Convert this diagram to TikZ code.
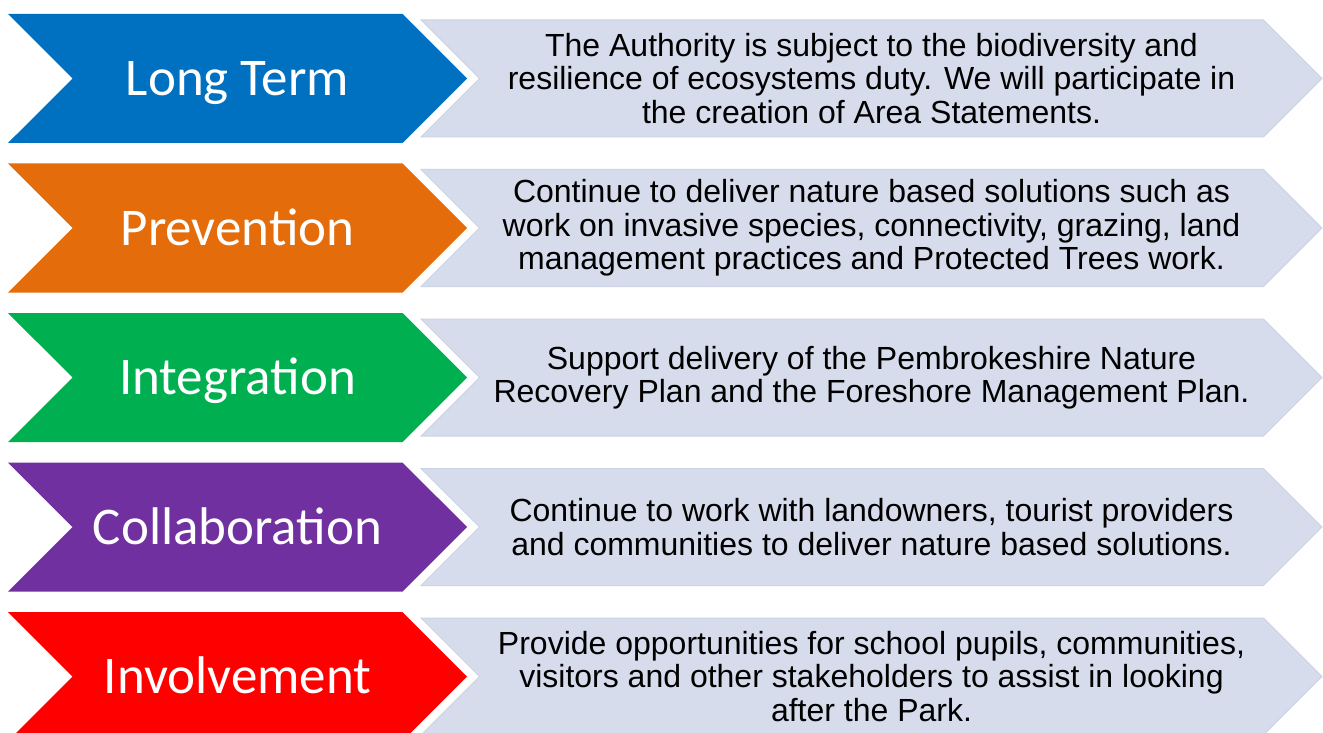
\documentclass[tikz,border=0pt]{standalone}
\usepackage{fontspec}
\setmainfont{Liberation Sans}
\newfontfamily\labelfont{Carlito}
\usepackage{xcolor}
\usepackage{tikz}
\usetikzlibrary{shapes.symbols,positioning}
\definecolor{termblue}{RGB}{0, 112, 192}
\definecolor{prevorange}{RGB}{228, 108, 10}
\definecolor{integgreen}{RGB}{0, 176, 80}
\definecolor{collabpurple}{RGB}{112, 48, 160}
\definecolor{involvred}{RGB}{255, 0, 0}
\definecolor{panelgray}{RGB}{214, 220, 235}
\definecolor{paneledge}{RGB}{204, 211, 229}

\begin{document}
\begin{tikzpicture}[x=1pt, y=-1pt,
    chevron/.style={shape=signal, signal from=west, signal to=east, signal pointer angle=90,
        minimum width=459pt, minimum height=129pt, inner sep=0pt, text=white,
        text height=34pt, text depth=0pt,
        font=\labelfont\fontsize{53}{60}\selectfont},
    panel/.style={shape=signal, signal from=west, signal to=east, signal pointer angle=90,
        fill=panelgray, draw=paneledge, line width=1pt,
        minimum width=901pt, minimum height=117pt, inner sep=0pt, align=center,
        font=\fontsize{32}{33.5}\selectfont}]
    \useasboundingbox (0,0) rectangle (1323,733);

    % Long Term
    \node[chevron, fill=termblue] (term) at (237.5, 78.5) {Long Term};
    \node[panel] (termtxt) at (871.5, 78.5) {The Authority is subject to the biodiversity and\\resilience of ecosystems duty. We will participate in\\the creation of Area Statements.};

    % Prevention
    \node[chevron, fill=prevorange] (prev) at (237.5, 228) {Prevention};
    \node[panel] (prevtxt) at (871.5, 228) {Continue to deliver nature based solutions such as\\work on invasive species, connectivity, grazing, land\\management practices and Protected Trees work.};

    % Integration
    \node[chevron, fill=integgreen] (integ) at (237.5, 377.5) {Integration};
    \node[panel] (integtxt) at (871.5, 377.5) {Support delivery of the Pembrokeshire Nature\\Recovery Plan and the Foreshore Management Plan.};

    % Collaboration
    \node[chevron, fill=collabpurple] (collab) at (237.5, 527) {Collaboration};
    \node[panel] (collabtxt) at (871.5, 527) {Continue to work with landowners, tourist providers\\and communities to deliver nature based solutions.};

    % Involvement
    \node[chevron, fill=involvred] (involv) at (237.5, 676.5) {Involvement};
    \node[panel] (involvtxt) at (871.5, 676.5) {Provide opportunities for school pupils, communities,\\visitors and other stakeholders to assist in looking\\after the Park.};
\end{tikzpicture}
\end{document}
